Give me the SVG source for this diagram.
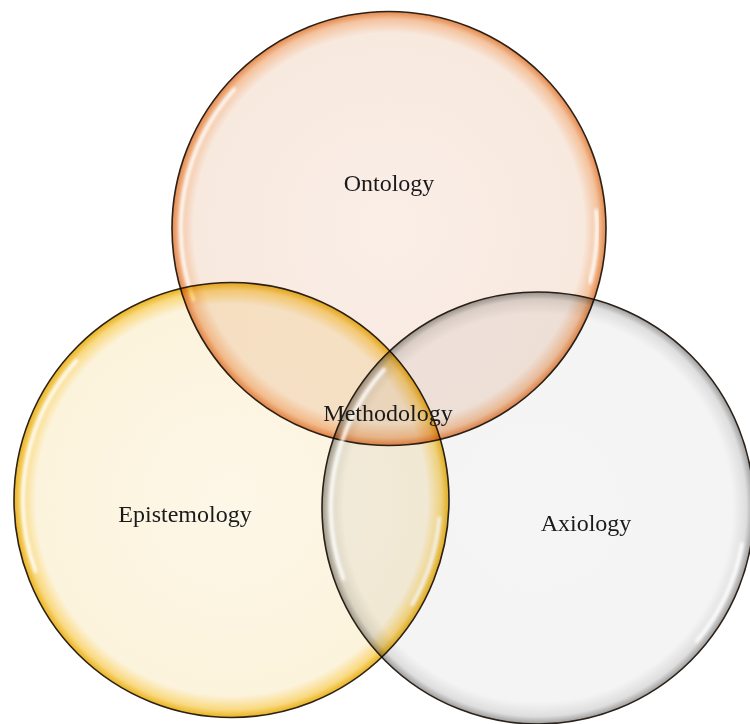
<svg xmlns="http://www.w3.org/2000/svg" width="750" height="724" viewBox="0 0 750 724">
<style>
.ring{stroke:#2b2118;stroke-width:1.6;mix-blend-mode:multiply}
.lbl{font-family:"Liberation Serif","Times New Roman",serif;font-size:24px;fill:#1a1a1a;text-anchor:middle}
.hl{fill:none;stroke:#ffffff;stroke-width:3.5;stroke-linecap:round;opacity:0.95}
</style>
<defs>
<radialGradient id="gO" cx="0.5" cy="0.5" r="0.5">
<stop offset="0" stop-color="#faeee7"/>
<stop offset="0.9" stop-color="#f8e9df"/>
<stop offset="0.965" stop-color="#f4c39e"/>
<stop offset="1" stop-color="#e4874a"/>
</radialGradient>
<radialGradient id="gE" cx="0.5" cy="0.5" r="0.5">
<stop offset="0" stop-color="#fdf7e8"/>
<stop offset="0.9" stop-color="#fcf3dc"/>
<stop offset="0.965" stop-color="#f9d980"/>
<stop offset="1" stop-color="#e9b21c"/>
</radialGradient>
<radialGradient id="gA" cx="0.5" cy="0.5" r="0.5">
<stop offset="0" stop-color="#f5f5f6"/>
<stop offset="0.9" stop-color="#f4f4f5"/>
<stop offset="0.965" stop-color="#dedede"/>
<stop offset="1" stop-color="#9c9c9c"/>
</radialGradient>
<filter id="blur" x="-20%" y="-20%" width="140%" height="140%"><feGaussianBlur stdDeviation="1.5"/></filter>
</defs>
<g id="ontology">
<circle class="ring" cx="389" cy="228.5" r="217" fill="url(#gO)"/>
<path class="hl" filter="url(#blur)" d="M 193.5 299.6 A 208 208 0 0 1 234.4 89.3"/>
<path class="hl" filter="url(#blur)" d="M 596.2 210.4 A 208 208 0 0 1 589.9 282.3" opacity="0.7"/>
<text class="lbl" x="389" y="191">Ontology</text>
</g>
<g id="epistemology">
<circle class="ring" cx="231.5" cy="500" r="217.5" fill="url(#gE)"/>
<path class="hl" filter="url(#blur)" d="M 35.6 571.3 A 208.5 208.5 0 0 1 76.6 360.5"/>
<path class="hl" filter="url(#blur)" d="M 439.2 518.2 A 208.5 208.5 0 0 1 412.1 604.3" opacity="0.7"/>
<text class="lbl" x="185" y="522">Epistemology</text>
</g>
<g id="axiology">
<circle class="ring" cx="538" cy="508" r="216" fill="url(#gA)"/>
<path class="hl" filter="url(#blur)" d="M 343.5 578.8 A 207 207 0 0 1 384.2 369.5"/>
<path class="hl" filter="url(#blur)" d="M 741.9 543.9 A 207 207 0 0 1 696.6 641.1" opacity="0.85"/>
<text class="lbl" x="586" y="531">Axiology</text>
</g>
<g id="methodology">
<text class="lbl" x="388" y="421">Methodology</text>
</g>
<g id="connectors"></g>
</svg>
